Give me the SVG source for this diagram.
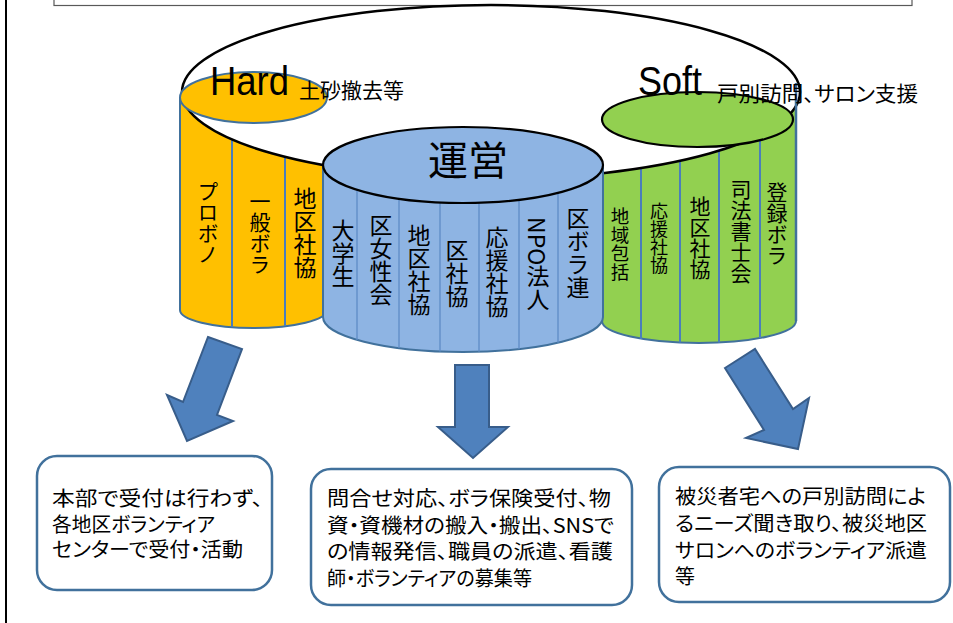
<svg xmlns="http://www.w3.org/2000/svg" width="953" height="623" viewBox="0 0 953 623">
  <defs>
    <style>
      .jp { font-family: "Noto Sans CJK JP", "Noto Sans CJK SC", sans-serif; fill: #000; }
      .lat { font-family: "Liberation Sans", Arial, sans-serif; fill: #000; }
      .v { font-family: "Noto Sans CJK JP", "Noto Sans CJK SC", sans-serif; writing-mode: vertical-rl; fill: #000; }
      .cap { font-size: 21px; font-feature-settings: "palt"; }
      .bt { font-family: "Noto Sans CJK JP", "Noto Sans CJK SC", sans-serif; font-size: 20px; font-feature-settings: "palt"; fill: #000; }
      .body { stroke: #41719C; stroke-width: 2; }
      .yel { fill: #FFC000; }
      .grn { fill: #92D050; }
      .blu { fill: #8EB4E3; }
      .div { stroke: #4A7EBB; stroke-width: 2; fill: none; }
      .divb { stroke: #5F8CC6; stroke-width: 1.3; fill: none; }
      .top { stroke: #000; stroke-width: 2.2; }
      .arrow { fill: #4F81BD; stroke: #385D8A; stroke-width: 2; stroke-linejoin: miter; }
      .box { fill: #fff; stroke: #41719C; stroke-width: 2.5; }
    </style>
  </defs>

  <!-- page frame -->
  <line x1="6" y1="0" x2="6" y2="623" stroke="#000" stroke-width="2"/>
  <rect x="54" y="-3" width="858" height="8.5" fill="#fff" stroke="#595959" stroke-width="1.2"/>

  <!-- Hard cylinder body -->
  <g id="hard-body">
    <path class="body yel" d="M180,98 L180,310 A73.5,18 0 0 0 327,310 L327,98 Z"/>
    <line class="div" x1="232" y1="110" x2="232" y2="327"/>
    <line class="div" x1="285" y1="110" x2="285" y2="326"/>
  </g>

  <!-- Soft cylinder body -->
  <g id="soft-body">
    <path class="body grn" d="M602,84 L602,321 A97,22 0 0 0 796,321 L796,84 Z"/>
    <line class="div" x1="641" y1="120" x2="641" y2="339"/>
    <line class="div" x1="680" y1="120" x2="680" y2="342.5"/>
    <line class="div" x1="719" y1="120" x2="719" y2="342.5"/>
    <line class="div" x1="760" y1="120" x2="760" y2="338"/>
  </g>

  <!-- large rolled sheet joining both ends -->
  <ellipse id="sheet" cx="491" cy="92" rx="309" ry="87" fill="#fff" stroke="#000" stroke-width="2.5"/>

  <g id="hard">
    <ellipse class="body yel" cx="253.5" cy="97.5" rx="73.5" ry="25.5" stroke-width="2.5"/>
    <text class="lat" x="210" y="95" font-size="40" textLength="79" lengthAdjust="spacingAndGlyphs">Hard</text>
    <text class="jp cap" x="299" y="98">土砂撤去等</text>
    <text class="v" x="208" y="181" font-size="21">プロボノ</text>
    <text class="v" x="260" y="191" font-size="21">一般ボラ</text>
    <text class="v" x="305" y="187" font-size="23">地区社協</text>
  </g>

  <g id="soft">
    <ellipse class="top grn" cx="697.5" cy="119.5" rx="95.5" ry="27.5"/>
    <line x1="796" y1="83" x2="796" y2="321" stroke="#41719C" stroke-width="2.5"/>
    <text class="lat" x="638" y="95" font-size="40" textLength="64" lengthAdjust="spacingAndGlyphs">Soft</text>
    <text class="jp cap" x="717" y="101" textLength="201" lengthAdjust="spacingAndGlyphs">戸別訪問、サロン支援</text>
    <text class="v" x="620" y="207" font-size="18.5">地域包括</text>
    <text class="v" x="659" y="202" font-size="18">応援社協</text>
    <text class="v" x="700" y="196" font-size="21">地区社協</text>
    <text class="v" x="741" y="179" font-size="21">司法書士会</text>
    <text class="v" x="777" y="182" font-size="21">登録ボラ</text>
  </g>

  <g id="unei">
    <path class="body blu" d="M323,165 L323,317 A140,35 0 0 0 603,317 L603,165 Z"/>
    <line class="divb" x1="357" y1="190" x2="357" y2="340"/>
    <line class="divb" x1="399" y1="190" x2="399" y2="348"/>
    <line class="divb" x1="440" y1="190" x2="440" y2="351.5"/>
    <line class="divb" x1="479" y1="190" x2="479" y2="351.8"/>
    <line class="divb" x1="519" y1="190" x2="519" y2="349"/>
    <line class="divb" x1="558" y1="190" x2="558" y2="342.7"/>
    <ellipse class="top blu" cx="463" cy="165" rx="140" ry="38"/>
    <text class="jp" x="468" y="175" font-size="40" text-anchor="middle">運営</text>
    <text class="v" x="343" y="219" font-size="23">大学生</text>
    <text class="v" x="381" y="214" font-size="23">区女性会</text>
    <text class="v" x="419" y="224" font-size="23">地区社協</text>
    <text class="v" x="457" y="239" font-size="23">区社協</text>
    <text class="v" x="497" y="226" font-size="23">応援社協</text>
    <text class="v" x="538" y="217" font-size="23">NPO法人</text>
    <text class="v" x="578" y="207" font-size="23">区ボラ連</text>
  </g>

  <!-- block arrows from each group down to its task box -->
  <g id="connectors">
    <polygon class="arrow" points="208,337 242,349 217,415 233,421 187,441 167,395 183,402"/>
    <polygon class="arrow" points="455,365 489,365 489,427 508,427 473,458 438,427 455,427"/>
    <polygon class="arrow" points="725,368 755,349 793,409 809,398 798,449 746,438 764,430"/>
  </g>

  <g id="box-hard">
    <rect class="box" x="37" y="456" width="235" height="134" rx="20"/>
    <text class="bt" x="52" y="506" textLength="211" lengthAdjust="spacingAndGlyphs">本部で受付は行わず、</text>
    <text class="bt" x="52" y="532" textLength="163" lengthAdjust="spacingAndGlyphs">各地区ボランティア</text>
    <text class="bt" x="52" y="557" textLength="191" lengthAdjust="spacingAndGlyphs">センターで受付・活動</text>
  </g>

  <g id="box-unei">
    <rect class="box" x="311" y="469" width="321" height="136" rx="20"/>
    <text class="bt" x="327" y="506" textLength="284" lengthAdjust="spacingAndGlyphs">問合せ対応、ボラ保険受付、物</text>
    <text class="bt" x="327" y="533" textLength="287" lengthAdjust="spacingAndGlyphs">資・資機材の搬入・搬出、SNSで</text>
    <text class="bt" x="327" y="559" textLength="286" lengthAdjust="spacingAndGlyphs">の情報発信、職員の派遣、看護</text>
    <text class="bt" x="327" y="586" textLength="205" lengthAdjust="spacingAndGlyphs">師・ボランティアの募集等</text>
  </g>

  <g id="box-soft">
    <rect class="box" x="659" y="467" width="291" height="135" rx="20"/>
    <text class="bt" x="675" y="504" textLength="251" lengthAdjust="spacingAndGlyphs">被災者宅への戸別訪問によ</text>
    <text class="bt" x="675" y="531" textLength="252" lengthAdjust="spacingAndGlyphs">るニーズ聞き取り、被災地区</text>
    <text class="bt" x="675" y="558" textLength="252" lengthAdjust="spacingAndGlyphs">サロンへのボランティア派遣</text>
    <text class="bt" x="675" y="584">等</text>
  </g>
</svg>
